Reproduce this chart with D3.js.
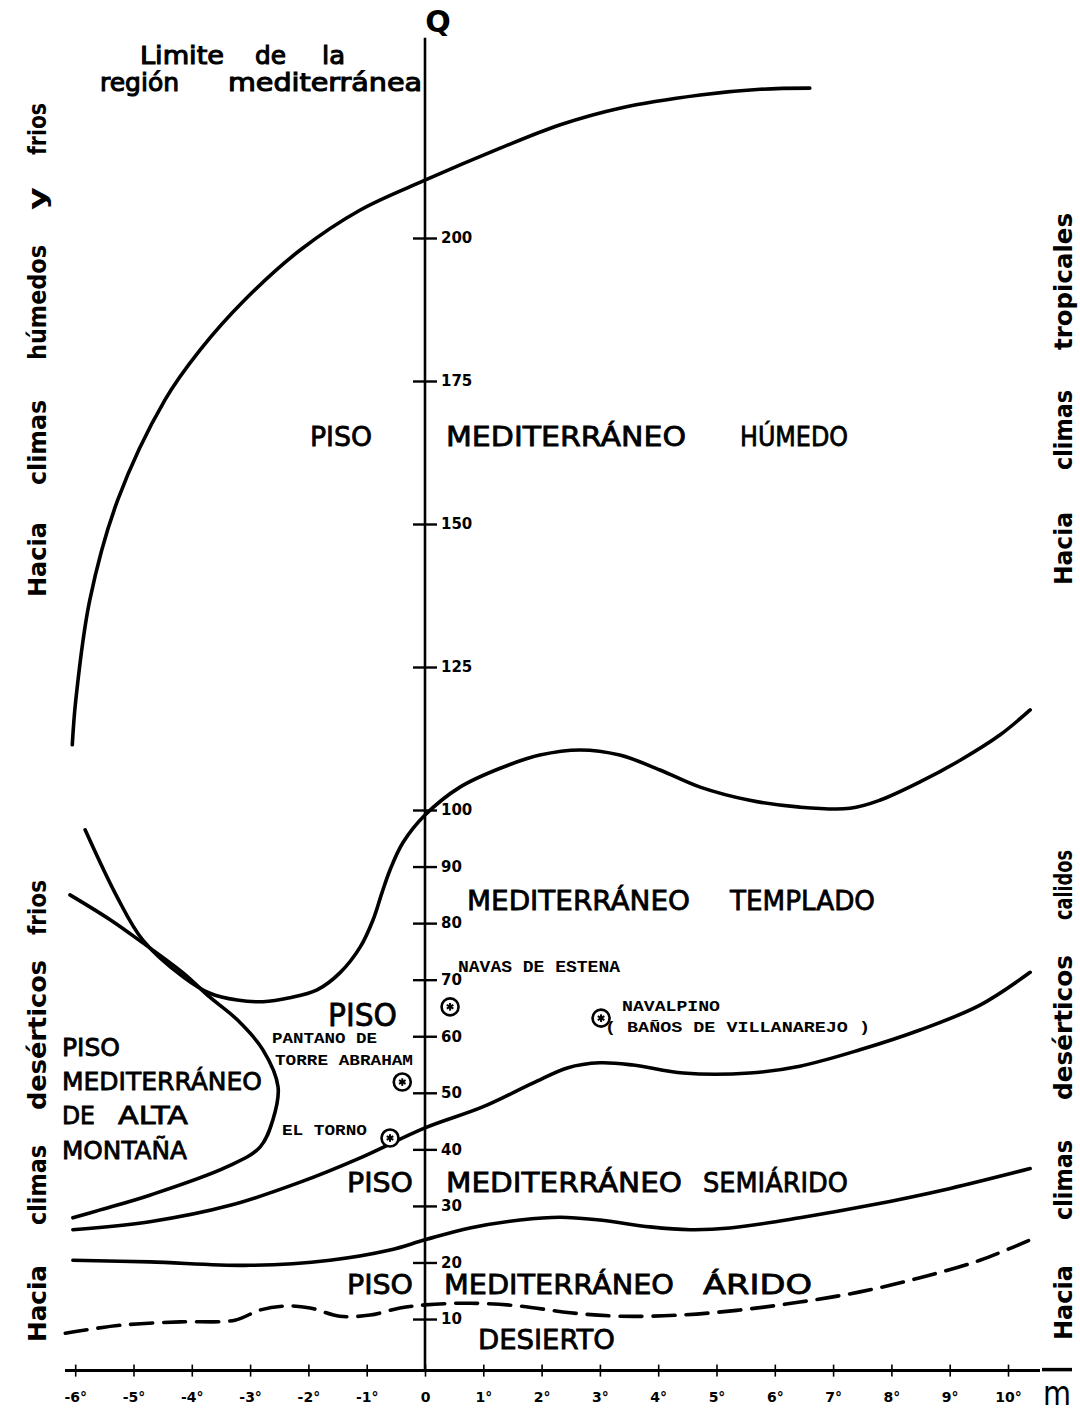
<!DOCTYPE html>
<html><head><meta charset="utf-8">
<script src="https://cdn.jsdelivr.net/npm/d3@7"></script>
<style>body{margin:0;background:#fff} svg{display:block;background:#fff}</style>
</head><body><svg id="c" width="1080" height="1415"></svg>
<script>
// ---------- DATA ----------
const mTicks = [-6,-5,-4,-3,-2,-1,0,1,2,3,4,5,6,7,8,9,10];
const qTicks = [10,20,30,40,50,60,70,80,90,100,125,150,175,200];

// Limite de la región mediterránea  [m, Q]
const limitCurve = [[-6.05,111.4],[-5.99,119.2],[-5.75,136.7],[-5.27,154.2],[-4.46,171.7],[-3.86,180.4],[-3.09,189.2],[-2.14,197.9],[-1.11,204.9],[0,210.1],[1.29,215.7],[2.32,219.8],[3.34,222.7],[4.72,225.0],[5.75,226.0],[6.6,226.2]];
// Húmedo / Templado boundary
const humidCurve = [[-5.83,96.5],[-5.28,84.6],[-4.84,77.0],[-4.15,70.5],[-3.69,67.6],[-3.22,66.4],[-2.78,66.1],[-2.32,66.8],[-1.85,68.2],[-1.46,71.2],[-1.11,75.8],[-0.89,80.6],[-0.74,85.3],[-0.60,89.4],[-0.38,94.2],[0,99.1],[0.60,104.0],[1.29,107.3],[1.97,109.6],[2.66,110.5],[3.34,109.6],[4.03,107.0],[4.72,104.0],[5.57,101.7],[6.43,100.5],[7.29,100.3],[7.80,101.7],[8.49,104.9],[9.18,108.7],[9.86,113.1],[10.38,117.5]];
// Alta montaña boundary
const altaCurve = [[-6.09,85.0],[-5.40,80.6],[-4.84,76.5],[-4.15,71.2],[-3.69,66.9],[-3.22,62.9],[-2.78,57.6],[-2.52,51.0],[-2.61,45.2],[-2.83,40.4],[-3.40,36.9],[-4.72,31.9],[-5.57,29.3],[-6.04,27.9]];
// Templado / Semiárido boundary
const templadoCurve = [[-6.04,25.8],[-4.72,27.2],[-3.34,30.1],[-2.14,34.2],[-1.11,38.5],[0,43.8],[0.99,47.5],[1.85,51.7],[2.44,54.4],[3.0,55.3],[3.57,54.9],[4.43,53.5],[5.57,53.5],[6.43,54.7],[7.46,57.6],[8.49,61.1],[9.52,65.5],[10.38,71.3]];
// Semiárido / Árido boundary
const semiCurve = [[-6.04,20.4],[-4.72,20.1],[-3.0,19.5],[-1.63,20.4],[-0.6,22.2],[0,24.0],[0.77,26.1],[1.63,27.5],[2.32,28.0],[3.0,27.5],[3.86,26.3],[4.55,25.8],[5.23,26.1],[6.43,27.9],[7.63,30.1],[9.01,33.1],[10.38,36.6]];
// Árido / Desierto boundary (dashed)
const desertCurve = [[-6.17,7.5],[-5.23,8.9],[-4.20,9.5],[-3.26,9.8],[-2.83,11.6],[-2.40,12.3],[-1.97,11.95],[-1.46,10.5],[-0.94,10.7],[-0.43,11.95],[0,12.5],[0.77,12.8],[1.63,12.3],[2.49,11.1],[3.34,10.5],[4.37,10.7],[5.40,11.6],[6.43,13.0],[7.46,14.8],[8.49,17.3],[9.52,20.4],[10.38,24.0]];

const stationNames = ["NAVAS DE ESTENA","PANTANO DE TORRE ABRAHAM","EL TORNO","NAVALPINO (BAÑOS DE VILLANAREJO)"];
const stationM = [0.43,-0.39,-0.60,3.02];
const stationQ = [65.2,51.9,42.0,63.2];

// ---------- SCALES ----------
const svg = d3.select('#c');
const x = d3.scaleLinear().domain([0,10]).range([425,1008]);
const y = d3.scaleLinear().domain([0,100,200]).range([1375.6,810,238]);
const line = d3.line().x(d=>x(d[0])).y(d=>y(d[1])).curve(d3.curveCatmullRom.alpha(0.5));

const SANS = "'DejaVu Sans', sans-serif";
const COND = "'DejaVu Sans Condensed','DejaVu Sans', sans-serif";
const MONO = "'Liberation Mono','DejaVu Sans Mono', monospace";

// ---------- AXES ----------
svg.append('line').attr('x1',x(0)).attr('x2',x(0)).attr('y1',y(235)).attr('y2',y(0)-5)
  .attr('stroke','#000').attr('stroke-width',2.6);
const yAx = svg.append('g').attr('transform',`translate(${x(0)},0)`)
  .call(d3.axisRight(y).tickValues(qTicks).tickSize(12).tickPadding(4).tickFormat(d3.format('d')));
yAx.select('.domain').remove();
yAx.selectAll('.tick line').attr('x1',-12).attr('stroke','#000').attr('stroke-width',2.4);
yAx.selectAll('.tick text').attr('font-family',SANS).attr('font-weight','bold').attr('font-size',15).attr('fill','#000');

const xAxisY = y(0)-5;
svg.append('line').attr('x1',65).attr('x2',1040).attr('y1',xAxisY).attr('y2',xAxisY)
  .attr('stroke','#000').attr('stroke-width',3);
svg.append('line').attr('x1',1042).attr('x2',1072).attr('y1',xAxisY-1).attr('y2',xAxisY-1)
  .attr('stroke','#000').attr('stroke-width',3.5);
const xAx = svg.append('g').attr('transform',`translate(0,${xAxisY})`)
  .call(d3.axisBottom(x).tickValues(mTicks).tickSize(6).tickPadding(15).tickFormat(d=>d===0?'0':d+'°'));
xAx.select('.domain').remove();
xAx.selectAll('.tick line').attr('y1',-6).attr('stroke','#000').attr('stroke-width',1.6);
xAx.selectAll('.tick text').attr('font-family',SANS).attr('font-weight','bold').attr('font-size',14).attr('fill','#000');

svg.append('text').text('Q').attr('x',x(0)+13).attr('y',32).attr('text-anchor','middle')
  .attr('font-family',SANS).attr('font-weight','bold').attr('font-size',30);
svg.append('text').text('m').attr('x',1057).attr('y',1405).attr('text-anchor','middle')
  .attr('font-family',COND).attr('font-size',34).attr('textLength',28).attr('lengthAdjust','spacingAndGlyphs');

// ---------- CURVES ----------
const curves = [
  {d:limitCurve, dash:null},{d:humidCurve, dash:null},{d:altaCurve, dash:null},
  {d:templadoCurve, dash:null},{d:semiCurve, dash:null},{d:desertCurve, dash:'22,11'}
];
svg.selectAll('path.curve').data(curves).join('path').attr('class','curve')
  .attr('d',c=>line(c.d)).attr('fill','none').attr('stroke','#000').attr('stroke-width',3.6)
  .attr('stroke-linecap','round').attr('stroke-linejoin','round').attr('stroke-dasharray',c=>c.dash);

// ---------- STATIONS ----------
const st = svg.selectAll('g.st').data(stationNames.map((n,i)=>({n,m:stationM[i],q:stationQ[i]}))).join('g')
  .attr('transform',d=>`translate(${x(d.m)},${y(d.q)})`);
st.append('circle').attr('r',8.5).attr('fill','#fff').attr('stroke','#000').attr('stroke-width',2.6);
[0,60,120].forEach(a=>{
  st.append('line').attr('x1',-3.8).attr('x2',3.8).attr('y1',0).attr('y2',0)
    .attr('transform',`rotate(${a+90})`).attr('stroke','#000').attr('stroke-width',2);
});

// ---------- TEXT ----------
function hword(t,x0,x1,yb,size,font,weight,sw){
  svg.append('text').text(t).attr('x',x0).attr('y',yb).attr('font-family',font).attr('font-size',size)
    .attr('font-weight',weight||'normal').attr('textLength',x1-x0).attr('lengthAdjust','spacingAndGlyphs')
    .attr('stroke',sw?'#000':'none').attr('stroke-width',sw||0);
}
function vword(t,y0,y1,xb,size){
  svg.append('text').text(t).attr('transform',`translate(${xb},${y0}) rotate(-90)`)
    .attr('font-family',COND).attr('font-weight','bold').attr('font-size',size)
    .attr('textLength',y0-y1).attr('lengthAdjust','spacingAndGlyphs');
}
// vertical side labels
[["Hacia",597,522],["climas",485,400],["húmedos",360,245],["y",210,187],["frios",155,103]].forEach(w=>vword(w[0],w[1],w[2],46,25));
[["Hacia",585,512],["climas",470,390],["tropicales",350,213]].forEach(w=>vword(w[0],w[1],w[2],1072,25));
[["Hacia",1342,1265],["climas",1225,1145],["desérticos",1110,960],["frios",935,880]].forEach(w=>vword(w[0],w[1],w[2],46,25));
[["Hacia",1340,1265],["climas",1220,1140],["desérticos",1100,955],["calidos",920,850]].forEach(w=>vword(w[0],w[1],w[2],1072,25));

// top-left title
hword("Limite",140,224,64,25,SANS,'normal',1.1);
hword("de",255,286,64,25,SANS,'normal',1.1);
hword("la",322,345,64,25,SANS,'normal',1.1);
hword("región",100,179,91,25,SANS,'normal',1.1);
hword("mediterránea",228,422,91,25,SANS,'normal',1.1);

// zone labels
const Z = 0.8;
hword("PISO",310,372,446,27,SANS,'normal',Z);
hword("MEDITERRÁNEO",446,686,446,27,SANS,'normal',Z);
hword("HÚMEDO",740,848,446,27,SANS,'normal',Z);
hword("MEDITERRÁNEO",467,690,910,27,SANS,'normal',Z);
hword("TEMPLADO",730,875,910,27,SANS,'normal',Z);
hword("PISO",328,397,1026,32,SANS,'normal',Z);
hword("PISO",62,120,1056,24,SANS,'normal',Z);
hword("MEDITERRÁNEO",62,262,1090,24,SANS,'normal',Z);
hword("DE",62,95,1124,24,SANS,'normal',Z);
hword("ALTA",118,188,1124,24,SANS,'normal',Z);
hword("MONTAÑA",62,187,1159,24,SANS,'normal',Z);
hword("PISO",347,413,1192,27,SANS,'normal',Z);
hword("MEDITERRÁNEO",446,682,1192,27,SANS,'normal',Z);
hword("SEMIÁRIDO",703,848,1192,27,SANS,'normal',Z);
hword("PISO",347,413,1294,27,SANS,'normal',Z);
hword("MEDITERRÁNEO",444,674,1294,27,SANS,'normal',Z);
hword("ÁRIDO",703,812,1294,27,SANS,'normal',Z);
hword("DESIERTO",478,615,1349,27,SANS,'normal',Z);

// station labels
hword("NAVAS DE ESTENA",458,620,972,16,MONO,'bold');
hword("NAVALPINO",622,720,1011,15,MONO,'bold');
hword("( BAÑOS DE VILLANAREJO )",605,870,1032,15,MONO,'bold');
hword("PANTANO DE",272,377,1043,15,MONO,'bold');
hword("TORRE ABRAHAM",275,413,1065,15,MONO,'bold');
hword("EL TORNO",282,367,1135,15,MONO,'bold');
</script></body></html>
